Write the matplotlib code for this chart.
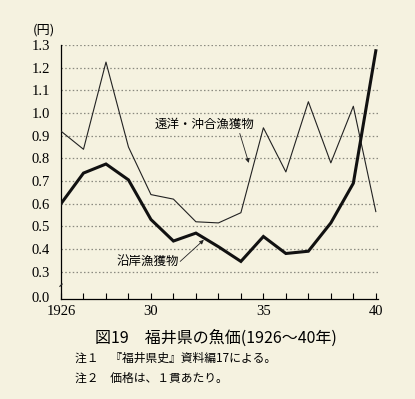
import numpy as np
import matplotlib.pyplot as plt

years = list(range(1926, 1941))
# 遠洋・沖合漁獲物 (thin line)
offshore = [0.92, 0.84, 1.225, 0.85, 0.64, 0.62, 0.52, 0.515, 0.56, 0.935,
            0.74, 1.05, 0.78, 1.03, 0.565]
# 沿岸漁獲物 (thick line)
coastal = [0.60, 0.735, 0.775, 0.705, 0.53, 0.435, 0.47, 0.41, 0.345, 0.455,
           0.38, 0.39, 0.515, 0.69, 1.275]
ytick_vals = [0.3, 0.4, 0.5, 0.6, 0.7, 0.8, 0.9, 1.0, 1.1, 1.2, 1.3]
xtick_labels = {1926: "1926", 1930: "30", 1935: "35", 1940: "40"}

BG = "#f5f2e0"
JP = ["Noto Sans CJK JP", "DejaVu Sans"]
SERIF = "Liberation Serif"

fig = plt.figure(figsize=(4.15, 3.99), dpi=100, facecolor=BG)
ax = fig.add_axes([0.147, 0.25, 0.764, 0.637])
ax.set_facecolor(BG)

ybot = 0.178  # broken axis: bottom of plot is labelled 0.0
ax.set_xlim(1926, 1940.1)
ax.set_ylim(ybot, 1.3)

for v in ytick_vals:
    ax.axhline(v, color="#8a8a80", lw=0.9, ls=(0, (1.2, 1.8)), zorder=1)

ax.plot(years, offshore, color="#222222", lw=0.8, zorder=3)
ax.plot(years, coastal, color="#111111", lw=2.2, zorder=3, solid_joinstyle="miter")

for s in ["top", "right"]:
    ax.spines[s].set_visible(False)
ax.spines["left"].set_linewidth(0.9)
ax.spines["bottom"].set_linewidth(0.9)

ax.set_yticks([ybot + 0.008] + ytick_vals)
ax.set_yticklabels(["0.0"] + ["%.1f" % v for v in ytick_vals],
                   fontfamily=SERIF, fontsize=10.5)
ax.tick_params(axis="y", length=0, pad=8)
ax.set_xticks(years)
ax.set_xticklabels([xtick_labels.get(y, "") for y in years],
                   fontfamily=SERIF, fontsize=10.5)
ax.tick_params(axis="x", direction="in", length=4, width=0.8, pad=4)

# axis break mark
ax.plot([1925.95, 1926.05], [0.235, 0.245], color="#222222", lw=0.8,
        clip_on=False, zorder=4)

fig.text(0.08, 0.925, "(円)", fontfamily=JP, fontsize=9.5, ha="left", va="center")

arrow = dict(arrowstyle="-|>", lw=0.6, color="#222222", mutation_scale=6,
             shrinkA=0, shrinkB=0)
ax.text(1930.15, 0.95, "遠洋・沖合漁獲物", fontfamily=JP, fontsize=9,
        ha="left", va="center")
ax.annotate("", xy=(1934.35, 0.78), xytext=(1933.95, 0.91), arrowprops=arrow)
ax.text(1928.45, 0.345, "沿岸漁獲物", fontfamily=JP, fontsize=9,
        ha="left", va="center")
ax.annotate("", xy=(1932.35, 0.44), xytext=(1931.3, 0.345), arrowprops=arrow)

fig.text(0.52, 0.152, "図19　福井県の魚価(1926〜40年)", fontfamily=JP,
         fontsize=11.5, ha="center", va="center")
fig.text(0.18, 0.102, "注１　『福井県史』資料編17による。", fontfamily=JP,
         fontsize=8.5, ha="left", va="center")
fig.text(0.18, 0.052, "注２　価格は、１貫あたり。", fontfamily=JP,
         fontsize=8.5, ha="left", va="center")

fig.savefig("out.png", dpi=100, facecolor=BG)
